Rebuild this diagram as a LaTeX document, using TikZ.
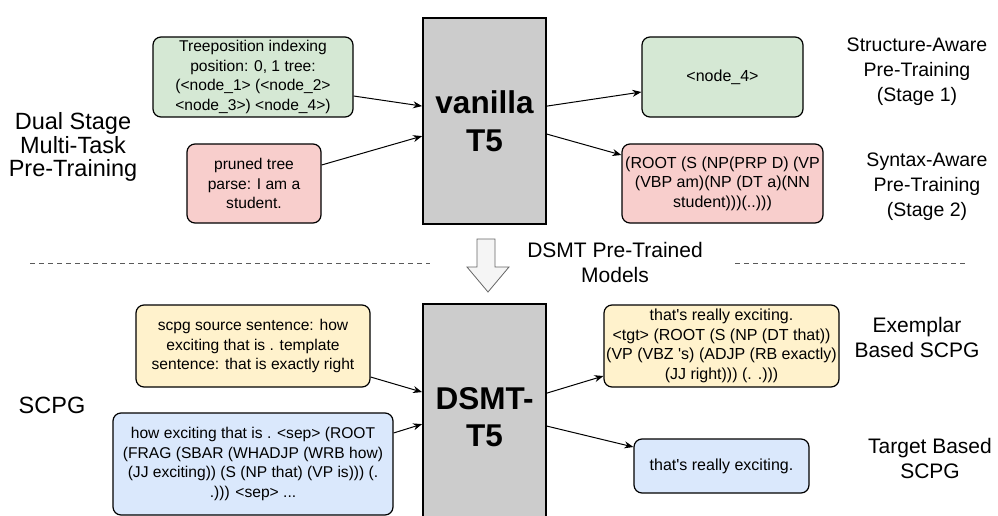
\documentclass[tikz,border=0pt]{standalone}
\usepackage{fontspec}
\setmainfont{Liberation Sans}
\usetikzlibrary{arrows.meta,calc}

\definecolor{stagegreen}{HTML}{D5E8D4}
\definecolor{stagepink}{HTML}{F8CECC}
\definecolor{scpgyellow}{HTML}{FFF2CC}
\definecolor{scpgblue}{HTML}{DAE8FC}
\definecolor{modelgray}{HTML}{CCCCCC}

\newcommand*{\picw}{998}
\newcommand*{\pich}{516}

\begin{document}
\begin{tikzpicture}
[
	x=1pt, y=-1pt,
	textbox/.style={draw, line width=1.2pt, rounded corners=8pt, align=center, inner sep=0pt,
		font=\fontsize{15.6}{19.5}\selectfont},
	outbox/.style={textbox, font=\fontsize{16}{19.5}\selectfont},
	modelbox/.style={draw, fill=modelgray, line width=1.8pt, align=center, inner sep=0pt,
		minimum width=123pt, font=\bfseries\fontsize{31.5}{37.5}\selectfont},
	sidelabel/.style={align=center, font=\fontsize{21}{25}\selectfont},
	biglabel/.style={sidelabel, font=\fontsize{23.5}{23.5}\selectfont},
	stagelabel/.style={sidelabel, font=\fontsize{19.5}{25}\selectfont},
	link/.style={line width=1pt, -{Stealth[length=9pt,width=7pt]}}
]

	\clip (0,0) rectangle (\picw,\pich);

	% models
	\node[modelbox, minimum height=206pt] (vanilla) at (484.5,121) {vanilla\\T5};
	\node[modelbox, minimum height=226pt] (dsmt) at (484.5,417) {DSMT-\\T5};

	% stage inputs and outputs
	\node[textbox, fill=stagegreen, minimum width=200pt, minimum height=80pt] (treepos) at (253,77)
		{Treeposition indexing\\position: 0, 1 tree:\\(<node\_1> (<node\_2>\\<node\_3>) <node\_4>)};
	\node[textbox, fill=stagepink, minimum width=134pt, minimum height=79pt] (pruned) at (254,183.5)
		{pruned tree\\parse: I am a\\student.};
	\node[outbox, fill=stagegreen, minimum width=161pt, minimum height=80pt] (nodeout) at (722.5,77)
		{<node\_4>};
	\node[outbox, fill=stagepink, minimum width=201pt, minimum height=79pt] (parseout) at (722.5,183.5)
		{(ROOT (S (NP(PRP D) (VP\\(VBP am)(NP (DT a)(NN\\student)))(..)))};

	% scpg inputs and outputs
	\node[textbox, fill=scpgyellow, minimum width=234pt, minimum height=82pt] (exemplarin) at (253,346)
		{scpg source sentence: how\\exciting that is . template\\sentence: that is exactly right};
	\node[textbox, fill=scpgblue, minimum width=280pt, minimum height=102pt] (targetin) at (253,464)
		{how exciting that is . <sep> (ROOT\\(FRAG (SBAR (WHADJP (WRB how)\\(JJ exciting)) (S (NP that) (VP is))) (.\\.))) <sep> ...};
	\node[outbox, fill=scpgyellow, minimum width=235pt, minimum height=82pt] (exemplarout) at (721.5,346)
		{that\textquotesingle s really exciting.\\<tgt> (ROOT (S (NP (DT that))\\(VP (VBZ \textquotesingle s) (ADJP (RB exactly)\\(JJ right))) (. .)))};
	\node[outbox, fill=scpgblue, minimum width=175pt, minimum height=54pt] (targetout) at (721.5,466)
		{that\textquotesingle s really exciting.};

	% side labels
	\node[biglabel] (dualstage) at (73,147) {Dual Stage\\Multi-Task\\Pre-Training};
	\node[stagelabel] (stageone) at (917,72) {Structure-Aware\\Pre-Training\\(Stage 1)};
	\node[stagelabel] (stagetwo) at (927,187) {Syntax-Aware\\Pre-Training\\(Stage 2)};
	\node[sidelabel] (pretrained) at (615,262) {DSMT Pre-Trained\\Models};
	\node[biglabel] (scpg) at (52,405) {SCPG};
	\node[sidelabel] (exemplar) at (917,337) {Exemplar\\Based SCPG};
	\node[sidelabel] (target) at (930,458) {Target Based\\SCPG};

	% separator
	\draw[gray!70!black, line width=0.8pt, dash pattern=on 5pt off 4pt] (30,263) -- (430,263);
	\draw[gray!70!black, line width=0.8pt, dash pattern=on 5pt off 4pt] (735,263) -- (965,263);

	% transfer arrow
	\draw[fill=black!4, draw=black!60, line width=0.8pt]
		(477,239) -- (495,239) -- (495,267) -- (509,267) -- (488,292) -- (467,267) -- (477,267) -- cycle;

	% connectors
	\draw[link] ($(treepos.east)+(0,19)$) -- ($(vanilla.north west)+(0,89)$);
	\draw[link] ($(pruned.east)+(0,-18.5)$) -- ($(vanilla.north west)+(0,119)$);
	\draw[link] ($(vanilla.north east)+(0,89)$) -- ($(nodeout.west)+(0,15)$);
	\draw[link] ($(vanilla.north east)+(0,117)$) -- ($(parseout.west)+(0,-28.5)$);

	\draw[link] ($(exemplarin.east)+(0,31)$) -- ($(dsmt.north west)+(0,89)$);
	\draw[link] ($(targetin.east)+(0,-31)$) -- ($(dsmt.north west)+(0,121)$);
	\draw[link] ($(dsmt.north east)+(0,90)$) -- ($(exemplarout.west)+(0,30)$);
	\draw[link] ($(dsmt.north east)+(0,123)$) -- ($(targetout.west)+(0,-19)$);

\end{tikzpicture}
\end{document}
